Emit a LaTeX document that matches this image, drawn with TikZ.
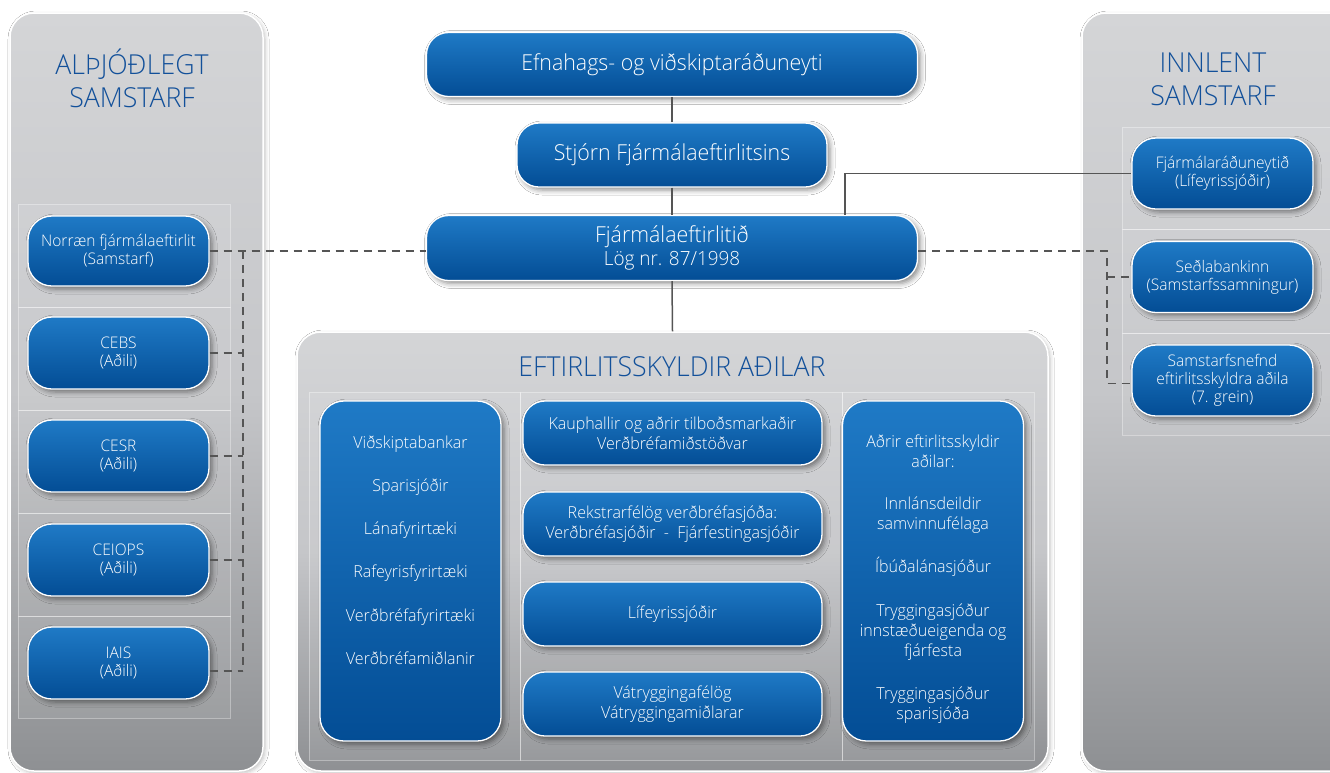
\documentclass[tikz,border=0pt]{standalone}
\usepackage{fontspec}
\setmainfont{Open Sans Light}[FakeStretch=0.97]
\usetikzlibrary{shadows.blur}
\definecolor{titleblue}{HTML}{12509A}
\definecolor{boxtop}{HTML}{1F7AC6}
\definecolor{boxbot}{HTML}{034D95}
\definecolor{paneltop}{HTML}{D4D5D7}
\definecolor{panelmid}{HTML}{C5C6C9}
\definecolor{panelbot}{HTML}{8E9093}
\definecolor{conncol}{HTML}{555555}
\begin{document}
\begin{tikzpicture}[x=1pt,y=-1pt,
  panel/.style={draw=white, line width=1.5pt, rounded corners=24pt, top color=paneltop, bottom color=panelbot, middle color=panelmid, inner sep=0pt, blur shadow={shadow xshift=2pt, shadow yshift=-2pt, shadow opacity=25, shadow blur radius=4pt}},
  bluebox/.style={draw=white, line width=1.3pt, rounded corners=22pt, top color=boxtop, bottom color=boxbot, text=white, align=center, inner sep=2pt, blur shadow={shadow xshift=3pt, shadow yshift=-3pt, shadow opacity=45, shadow blur radius=5pt}},
  smallbox/.style={bluebox, rounded corners=24pt, minimum width=181pt, minimum height=71pt, font=\fontsize{16}{18}\selectfont},
  topbox/.style={bluebox, minimum width=491pt, minimum height=64pt, font=\fontsize{22}{24}\selectfont},
  midbox/.style={bluebox, minimum width=299pt, minimum height=64pt, font=\fontsize{16.5}{20}\selectfont},
  colbox/.style={bluebox, rounded corners=24pt, minimum width=181pt, minimum height=340pt},
  coltext/.style={text=white, align=center, inner sep=0pt},
  title/.style={text=titleblue, align=center, inner sep=0pt, font=\fontsize{27.5}{33}\selectfont},
  rowbox/.style={draw=white, draw opacity=0.35, fill=white, fill opacity=0.07, line width=0.6pt},
  conn/.style={draw=conncol, line width=1.5pt},
  dashconn/.style={draw=conncol, line width=1.3pt, dash pattern=on 8pt off 6pt},
]
\fill[white] (0,0) rectangle (1330,772);
\useasboundingbox (0,0) rectangle (1330,772);

% panels
\node[panel, minimum width=253pt, minimum height=758pt] (PL) at (136.5,392) {};
\node[panel, minimum width=280pt, minimum height=758pt] (PR) at (1222,392) {};
\node[panel, minimum width=751pt, minimum height=439pt] (PC) at (672.5,551.5) {};

% faint row frames
\foreach \a/\b in {204/307,307/410,410/513,513/616,616/718}
  \draw[rowbox] (18,\a) rectangle (230,\b);
\foreach \a/\b in {127/229,229/333,333/435}
  \draw[rowbox] (1122,\a) rectangle (1345,\b);
\draw[rowbox] (309,392) rectangle (520,760);
\draw[rowbox] (520,392) rectangle (842,760);
\draw[rowbox] (842,392) rectangle (1034,760);

% titles
\node[title] (tL) at (132,78.5) {ALÞJÓÐLEGT\\SAMSTARF};
\node[title] (tR) at (1213,79.5) {INNLENT\\SAMSTARF};
\node[title] (tC) at (672,367) {EFTIRLITSSKYLDIR AÐILAR};

% top chain
\node[topbox] (E) at (672,64.5) {Efnahags- og viðskiptaráðuneyti};
\node[topbox, minimum width=310pt] (S) at (672,155) {Stjórn Fjármálaeftirlitsins};
\node[topbox, minimum height=65pt] (F) at (672,248) {Fjármálaeftirlitið\\[-1pt]{\fontsize{19.5}{22}\selectfont Lög nr. 87/1998}};

% left boxes
\node[smallbox, minimum height=70pt] (N) at (118.5,251) {Norræn fjármálaeftirlit\\(Samstarf)};
\node[smallbox, minimum height=72pt] (C1) at (118.5,353) {CEBS\\(Aðili)};
\node[smallbox, minimum height=72pt] (C2) at (118.5,456) {CESR\\(Aðili)};
\node[smallbox, minimum height=72pt] (C3) at (118.5,560) {CEIOPS\\(Aðili)};
\node[smallbox, minimum height=72pt] (C4) at (118.5,663) {IAIS\\(Aðili)};

% right boxes
\node[smallbox] (Fr) at (1222.5,173.5) {Fjármálaráðuneytið\\(Lífeyrissjóðir)};
\node[smallbox] (Sb) at (1222.5,277) {Seðlabankinn\\(Samstarfssamningur)};
\node[smallbox] (Sn) at (1222.5,380.5) {Samstarfsnefnd\\eftirlitsskyldra aðila\\(7. grein)};

% center panel boxes
\node[colbox] (CL) at (410.5,571) {};
\node[coltext, font=\fontsize{16.5}{43.2}\selectfont] (CLt) at (410.5,550) {Viðskiptabankar\\Sparisjóðir\\Lánafyrirtæki\\Rafeyrisfyrirtæki\\Verðbréfafyrirtæki\\Verðbréfamiðlanir};
\node[colbox] (CR) at (933,571) {};
\node[coltext, font=\fontsize{16.5}{20}\selectfont] (CRt) at (933,579) {Aðrir eftirlitsskyldir\\aðilar:\\[22pt]Innlánsdeildir\\samvinnufélaga\\[23pt]Íbúðalánasjóður\\[24pt]Tryggingasjóður\\innstæðueigenda og\\fjárfesta\\[23pt]Tryggingasjóður\\sparisjóða};
\node[midbox] (M1) at (672.5,433) {Kauphallir og aðrir tilboðsmarkaðir\\Verðbréfamiðstöðvar};
\node[midbox] (M2) at (672.5,524) {Rekstrarfélög verðbréfasjóða:\\Verðbréfasjóðir\ \ -\ \ Fjárfestingasjóðir};
\node[midbox] (M3) at (672.5,614) {Lífeyrissjóðir};
\node[midbox] (M4) at (672.5,704) {Vátryggingafélög\\Vátryggingamiðlarar};

% solid connectors
\draw[conn] (E.south) -- (S.north);
\draw[conn] (S.south) -- (F.north);
\draw[conn] (F.south) -- (PC.north);
\draw[conn] ([xshift=173pt]F.north) |- (Fr.west);

% dashed connectors
\coordinate (lc) at (243,251);
\coordinate (lb) at (243,671);
\coordinate (rc) at (1107,251);
\draw[dashconn] (N.east) -- (N.east -| F.west);
\draw[dashconn] (lc) -- (lb);
\draw[dashconn] (C1.east) -- (C1.east -| lc);
\draw[dashconn] (C2.east) -- (C2.east -| lc);
\draw[dashconn] (C3.east) -- (C3.east -| lc);
\draw[dashconn] (lb -| C4.east) -- (lb);
\draw[dashconn] (N.east -| F.east) -- (rc) |- ([yshift=-3pt]Sn.west);
\draw[dashconn] (rc |- Sb.west) -- (Sb.west);
\end{tikzpicture}
\end{document}
